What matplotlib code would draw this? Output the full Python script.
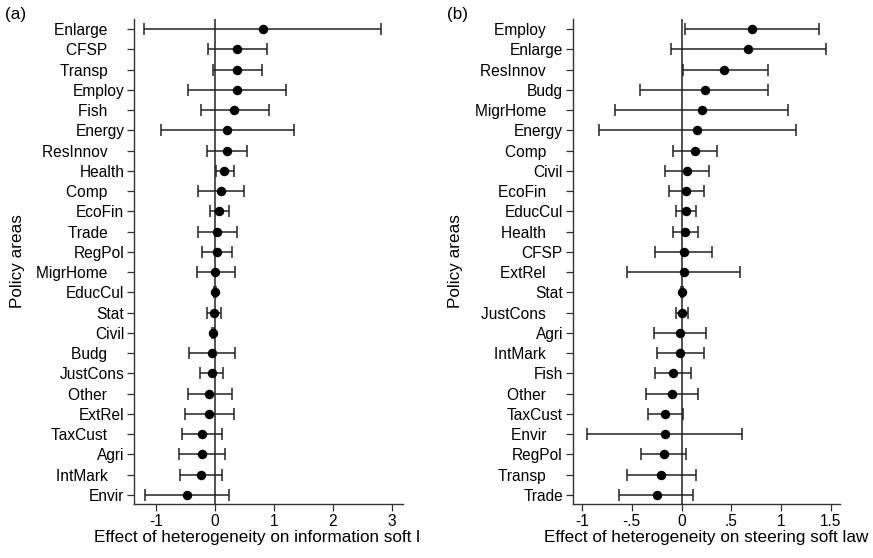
import matplotlib
matplotlib.use("Agg")
import matplotlib.pyplot as plt
from matplotlib.transforms import Bbox, TransformedBbox

plt.rcParams['font.family'] = ['Liberation Sans', 'DejaVu Sans']

# Panel (a): information soft law
cats_a = ["Enlarge", "CFSP", "Transp", "Employ", "Fish", "Energy", "ResInnov", "Health",
          "Comp", "EcoFin", "Trade", "RegPol", "MigrHome", "EducCul", "Stat", "Civil",
          "Budg", "JustCons", "Other", "ExtRel", "TaxCust", "Agri", "IntMark", "Envir"]
pad_a = [1, 1, 1, 0, 1, 0, 1, 0, 1, 0, 1, 0, 1, 0, 0, 0, 1, 0, 1, 0, 1, 0, 1, 0]
est_a = [0.81, 0.38, 0.38, 0.37, 0.33, 0.21, 0.20, 0.16, 0.10, 0.07, 0.03, 0.03, 0.01,
         0.00, -0.02, -0.03, -0.05, -0.05, -0.10, -0.10, -0.22, -0.22, -0.24, -0.47]
lo_a = [-1.20, -0.11, -0.03, -0.45, -0.24, -0.92, -0.14, 0.02, -0.29, -0.08, -0.29, -0.21, -0.31,
        -0.02, -0.14, -0.05, -0.43, -0.25, -0.46, -0.51, -0.55, -0.60, -0.59, -1.18]
hi_a = [2.81, 0.89, 0.80, 1.20, 0.91, 1.34, 0.55, 0.32, 0.50, 0.24, 0.38, 0.29, 0.34,
        0.02, 0.10, -0.01, 0.34, 0.14, 0.29, 0.33, 0.12, 0.17, 0.12, 0.24]
ticks_a = [-1, 0, 1, 2, 3]
tlabels_a = ["-1", "0", "1", "2", "3"]

# Panel (b): steering soft law
cats_b = ["Employ", "Enlarge", "ResInnov", "Budg", "MigrHome", "Energy", "Comp", "Civil",
          "EcoFin", "EducCul", "Health", "CFSP", "ExtRel", "Stat", "JustCons", "Agri",
          "IntMark", "Fish", "Other", "TaxCust", "Envir", "RegPol", "Transp", "Trade"]
pad_b = [1, 0, 1, 0, 1, 0, 1, 0, 1, 0, 1, 0, 1, 0, 1, 0, 1, 0, 1, 0, 1, 0, 1, 0]
est_b = [0.71, 0.67, 0.43, 0.23, 0.20, 0.15, 0.13, 0.05, 0.04, 0.04, 0.03, 0.02, 0.02,
         0.00, 0.00, -0.02, -0.02, -0.09, -0.10, -0.17, -0.17, -0.18, -0.21, -0.25]
lo_b = [0.03, -0.11, 0.01, -0.42, -0.67, -0.83, -0.09, -0.17, -0.13, -0.06, -0.09, -0.27, -0.55,
        -0.01, -0.06, -0.28, -0.25, -0.27, -0.36, -0.34, -0.95, -0.41, -0.55, -0.63]
hi_b = [1.38, 1.45, 0.87, 0.87, 1.07, 1.15, 0.36, 0.28, 0.22, 0.14, 0.16, 0.31, 0.59,
        0.01, 0.06, 0.25, 0.22, 0.09, 0.16, 0.01, 0.61, 0.04, 0.14, 0.11]
ticks_b = [-1, -0.5, 0, 0.5, 1, 1.5]
tlabels_b = ["-1", "-.5", "0", ".5", "1", "1.5"]

W, H = 873, 558
fig = plt.figure(figsize=(W / 100, H / 100), dpi=100)

def panel(rect, cats, pad, est, lo, hi, ticks, tlabels, xlim, xlabel, tag, tagx, clip_right=None):
    ax = fig.add_axes(rect)
    y = list(range(len(cats)))
    xerr = [[e - l for e, l in zip(est, lo)], [h - e for e, h in zip(est, hi)]]
    ax.axvline(0, color='#333333', lw=1.2, zorder=1)
    ax.errorbar(est, y, xerr=xerr, fmt='o', color='black', ecolor='#222222',
                elinewidth=1.1, capsize=4, capthick=1.1, markersize=5.8, zorder=3)
    ax.set_ylim(len(cats) - 0.55, -0.5)
    ax.set_xlim(*xlim)
    ax.set_yticks(y)
    ax.set_yticklabels([c + ("    " if p else "") for c, p in zip(cats, pad)], fontsize=11.2)
    ax.set_xticks(ticks)
    ax.set_xticklabels(tlabels, fontsize=11.2)
    for s in ['top', 'right']:
        ax.spines[s].set_visible(False)
    for s in ['left', 'bottom']:
        ax.spines[s].set_color('#333333')
        ax.spines[s].set_linewidth(1.0)
    ax.tick_params(axis='both', direction='out', length=5, width=0.9, color='#333333', pad=2)
    lab = ax.set_xlabel(xlabel, fontsize=12.3, labelpad=1)
    if clip_right is not None:
        lab.set_clip_box(TransformedBbox(Bbox([[0, 0], [clip_right / W, 1]]), fig.transFigure))
        lab.set_clip_on(True)
    ax.set_ylabel("Policy areas", fontsize=12.3, labelpad=8)
    fig.text(tagx / W, 1 - 15 / H, tag, fontsize=12.3, ha='left', va='center')
    return ax

ax_a = panel([134 / W, 54 / H, 269 / W, 485 / H], cats_a, pad_a, est_a, lo_a, hi_a,
             ticks_a, tlabels_a, (-1.37, 3.19),
             "Effect of heterogeneity on information soft law", "(a)", 5, clip_right=421)
ax_b = panel([572.7 / W, 54 / H, 267.3 / W, 485 / H], cats_b, pad_b, est_b, lo_b, hi_b,
             ticks_b, tlabels_b, (-1.093, 1.59),
             "Effect of heterogeneity on steering soft law", "(b)", 447)

fig.savefig("out.png", dpi=100)
